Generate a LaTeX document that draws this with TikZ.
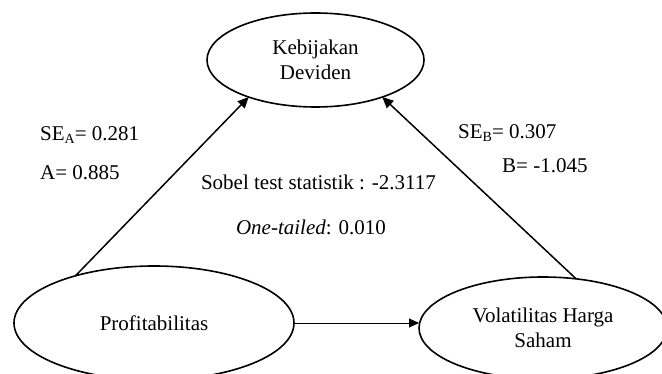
\documentclass[tikz,border=0pt]{standalone}
\usepackage{fontspec}
\setmainfont{Liberation Serif}
\usetikzlibrary{shapes.geometric,arrows.meta}
\begin{document}
\begin{tikzpicture}[x=1pt,y=-1pt,
  every node/.style={font=\fontsize{21}{25}\selectfont},
  var/.style={draw,ellipse,line width=1.6pt,inner sep=0pt,outer sep=0pt,align=center},
  lbl/.style={inner sep=0pt,anchor=west},
  path/.style={line width=1.5pt,-{Triangle[length=11pt,width=10pt]}},
  direct/.style={line width=0.9pt,-{Triangle[length=10pt,width=9pt]}}]
\useasboundingbox (0,0) rectangle (662,374);
\node[var,minimum width=217pt,minimum height=94pt] (kd) at (315.5,60) {Kebijakan\\Deviden};
\node[var,minimum width=280pt,minimum height=114pt] (pr) at (154,323) {Profitabilitas};
\node[var,minimum width=248pt,minimum height=102pt] (vh) at (543,328) {Volatilitas Harga\\Saham};
\draw[path] (pr.149.4) -- (kd.209);
\draw[path] (vh.56) -- (kd.331.3);
\draw[direct] (pr.east) -- (pr.east -| vh.west);
\newcommand{\subsc}[1]{\raisebox{-0.12em}{\fontsize{14}{14}\selectfont #1}}
\node[lbl] (sea) at (40,135) {SE\subsc{A}= 0.281};
\node[lbl] (a) at (40,173) {A= 0.885};
\node[lbl] (seb) at (458,133) {SE\subsc{B}= 0.307};
\node[lbl] (b) at (502,166) {B= -1.045};
\node[inner sep=0pt] (sobel) at (318.5,182) {Sobel test statistik : -2.3117};
\node[inner sep=0pt] (one) at (311,227) {\textit{One-tailed}: 0.010};
\end{tikzpicture}
\end{document}
